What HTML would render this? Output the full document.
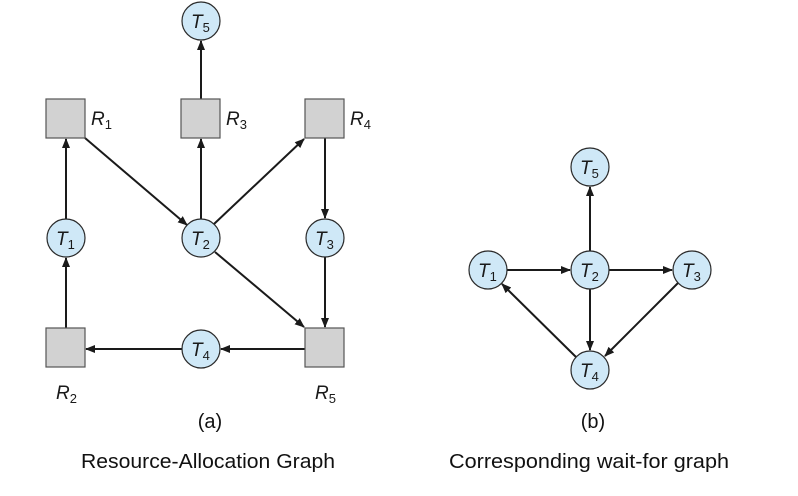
<!DOCTYPE html>
<html><head><meta charset="utf-8"><style>
html,body{margin:0;padding:0;background:#fff;}
svg{display:block;}
.n{fill:#cfe8f7;stroke:#2a2a2a;stroke-width:1.2;}
.b{fill:#d2d2d2;stroke:#555;stroke-width:1.2;}
.e{stroke:#1a1a1a;stroke-width:2;fill:none;marker-end:url(#a);}
.t{font-family:"Liberation Sans",sans-serif;font-style:italic;font-size:19px;fill:#1a1a1a;}
.s{font-size:13px;font-style:normal;}
.c{font-family:"Liberation Sans",sans-serif;font-size:20px;fill:#111;}
</style></head><body>
<svg width="798" height="496" viewBox="0 0 798 496" xmlns="http://www.w3.org/2000/svg">
<defs><marker id="a" markerWidth="10" markerHeight="8" refX="9" refY="4" orient="auto" markerUnits="userSpaceOnUse"><path d="M0,0 L10,4 L0,8 z" fill="#1a1a1a"/></marker></defs>
<line class="e" x1="201" y1="99" x2="201" y2="41"/>
<line class="e" x1="66" y1="219" x2="66" y2="139"/>
<line class="e" x1="85" y1="138" x2="187" y2="225"/>
<line class="e" x1="201" y1="219" x2="201" y2="139"/>
<line class="e" x1="214" y1="224" x2="304" y2="139"/>
<line class="e" x1="325" y1="138" x2="325" y2="218"/>
<line class="e" x1="215" y1="252" x2="304" y2="327"/>
<line class="e" x1="325" y1="257" x2="325" y2="327"/>
<line class="e" x1="305" y1="349" x2="221" y2="349"/>
<line class="e" x1="182" y1="349" x2="86" y2="349"/>
<line class="e" x1="66" y1="328" x2="66" y2="258"/>
<rect class="b" x="46" y="99" width="39" height="39"/>
<rect class="b" x="181" y="99" width="39" height="39"/>
<rect class="b" x="305" y="99" width="39" height="39"/>
<rect class="b" x="46" y="328" width="39" height="39"/>
<rect class="b" x="305" y="328" width="39" height="39"/>
<circle class="n" cx="201" cy="21" r="19"/>
<circle class="n" cx="66" cy="238" r="19"/>
<circle class="n" cx="201" cy="238" r="19"/>
<circle class="n" cx="325" cy="238" r="19"/>
<circle class="n" cx="201" cy="349" r="19"/>
<text class="t" x="191" y="28">T<tspan class="s" dy="4">5</tspan></text>
<text class="t" x="56" y="245">T<tspan class="s" dy="4">1</tspan></text>
<text class="t" x="191" y="245">T<tspan class="s" dy="4">2</tspan></text>
<text class="t" x="315" y="245">T<tspan class="s" dy="4">3</tspan></text>
<text class="t" x="191" y="356">T<tspan class="s" dy="4">4</tspan></text>
<text class="t" x="91" y="125">R<tspan class="s" dy="4">1</tspan></text>
<text class="t" x="226" y="125">R<tspan class="s" dy="4">3</tspan></text>
<text class="t" x="350" y="125">R<tspan class="s" dy="4">4</tspan></text>
<text class="t" x="56" y="399">R<tspan class="s" dy="4">2</tspan></text>
<text class="t" x="315" y="399">R<tspan class="s" dy="4">5</tspan></text>
<text class="c" x="210" y="428" text-anchor="middle">(a)</text>
<text class="c" x="81" y="468" textLength="254" lengthAdjust="spacingAndGlyphs">Resource-Allocation Graph</text>
<line class="e" x1="590" y1="251" x2="590" y2="187"/>
<line class="e" x1="507" y1="270" x2="570" y2="270"/>
<line class="e" x1="609" y1="270" x2="672" y2="270"/>
<line class="e" x1="590" y1="289" x2="590" y2="350"/>
<line class="e" x1="678" y1="283" x2="605" y2="356"/>
<line class="e" x1="576" y1="357" x2="502" y2="284"/>
<circle class="n" cx="590" cy="167" r="19"/>
<circle class="n" cx="488" cy="270" r="19"/>
<circle class="n" cx="590" cy="270" r="19"/>
<circle class="n" cx="692" cy="270" r="19"/>
<circle class="n" cx="590" cy="370" r="19"/>
<text class="t" x="580" y="174">T<tspan class="s" dy="4">5</tspan></text>
<text class="t" x="478" y="277">T<tspan class="s" dy="4">1</tspan></text>
<text class="t" x="580" y="277">T<tspan class="s" dy="4">2</tspan></text>
<text class="t" x="682" y="277">T<tspan class="s" dy="4">3</tspan></text>
<text class="t" x="580" y="377">T<tspan class="s" dy="4">4</tspan></text>
<text class="c" x="593" y="428" text-anchor="middle">(b)</text>
<text class="c" x="449" y="468" textLength="280" lengthAdjust="spacingAndGlyphs">Corresponding wait-for graph</text>
</svg>
</body></html>
